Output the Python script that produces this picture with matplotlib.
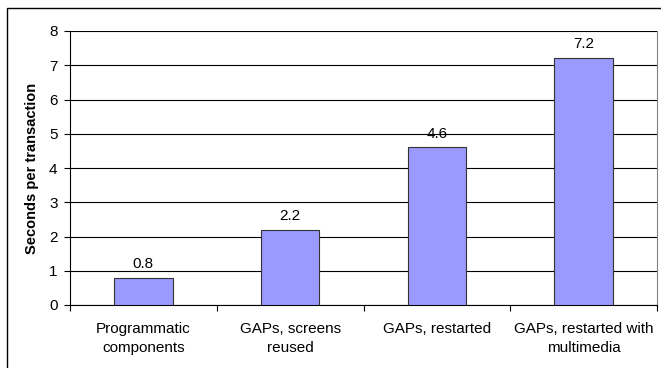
import matplotlib
matplotlib.use("Agg")
import matplotlib.pyplot as plt
from matplotlib.patches import Rectangle

plt.rcParams['font.family'] = ['Liberation Sans', 'DejaVu Sans']

categories = ["Programmatic\ncomponents", "GAPs, screens\nreused",
              "GAPs, restarted", "GAPs, restarted with\nmultimedia"]
seconds = [0.8, 2.2, 4.6, 7.2]
y_ticks = [0, 1, 2, 3, 4, 5, 6, 7, 8]

W, H = 661, 368
fig = plt.figure(figsize=(W / 100, H / 100), dpi=100)

# outer chart border (runs off the right and bottom edges)
fig.patches.append(Rectangle((7 / W, -0.1), 1.2, 1.1 - 8 / H, transform=fig.transFigure,
                             fill=False, edgecolor="black", linewidth=1.0))

ax = fig.add_axes([70 / W, 1 - 305 / H, (657 - 70) / W, (305 - 31) / H])

x = range(len(categories))
bars = ax.bar(x, seconds, width=0.4, color="#9999FF", edgecolor="#333333", linewidth=0.8, zorder=3)
for xi, v in zip(x, seconds):
    ax.annotate(f"{v}", (xi, v), xytext=(0, 5), textcoords="offset points",
                ha="center", va="bottom", fontsize=11)

ax.set_xlim(-0.5, len(categories) - 0.5)
ax.set_ylim(0, 8)
ax.set_yticks(y_ticks)
ax.yaxis.grid(True, color="black", linewidth=0.8, zorder=0)
ax.set_axisbelow(True)

# ticks sit on the category boundaries, labels in the middle
ax.set_xticks([i + 0.5 for i in range(len(categories) - 1)] + [-0.5, len(categories) - 0.5])
ax.set_xticklabels([])
ax.set_xticks(list(x), minor=True)
ax.set_xticklabels(categories, minor=True, fontsize=11, linespacing=1.5)
ax.tick_params(axis="x", which="minor", length=0, pad=12)
ax.tick_params(axis="x", which="major", length=4, width=0.8, direction="out")
ax.tick_params(axis="y", length=4, width=0.8, direction="out", labelsize=11, pad=5)

ax.set_ylabel("Seconds per transaction", fontsize=10.5, fontweight="bold", labelpad=7)

ax.spines["top"].set_visible(False)
ax.spines["right"].set_color("#808080")
ax.spines["left"].set_linewidth(0.8)
ax.spines["bottom"].set_linewidth(0.8)

fig.savefig("out.png", dpi=100)
